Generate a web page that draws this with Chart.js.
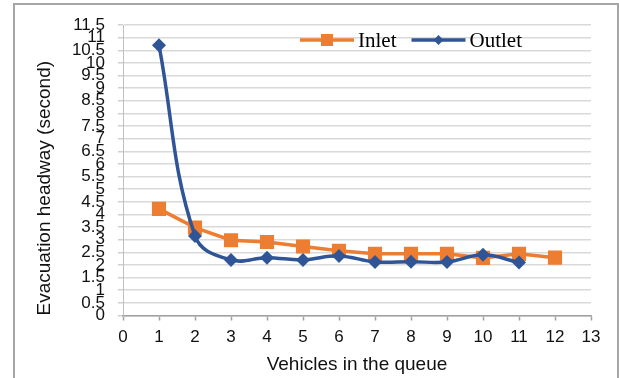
<!DOCTYPE html>
<html>
<head>
<meta charset="utf-8">
<script src="https://cdn.jsdelivr.net/npm/chart.js@4/dist/chart.umd.min.js"></script>
<style>
  html, body { margin: 0; padding: 0; background: #ffffff; }
  #frame { position: absolute; left: 13px; top: 3px; width: 606px; height: 400px; border: 2px solid #a6a6a6; box-sizing: border-box; }
  #wrap { position: absolute; left: 0; top: 0; width: 619px; height: 378px; }
</style>
</head>
<body>
<div id="frame"></div>
<div id="wrap"><canvas id="c" width="619" height="378"></canvas></div>
<script>
// ---- data ----
const vehicles = [1, 2, 3, 4, 5, 6, 7, 8, 9, 10, 11, 12];
const inletHeadway  = [4.22, 3.48, 2.98, 2.91, 2.73, 2.56, 2.44, 2.44, 2.44, 2.28, 2.44, 2.29];
const outletHeadway = [10.7, 3.15, 2.2, 2.29, 2.2, 2.36, 2.12, 2.13, 2.12, 2.4, 2.1];
const seriesNames = ["Inlet", "Outlet"];
const xTickLabels = ["0","1","2","3","4","5","6","7","8","9","10","11","12","13"];
const yTickLabels = ["0","0.5","1","1.5","2","2.5","3","3.5","4","4.5","5","5.5","6","6.5","7","7.5","8","8.5","9","9.5","10","10.5","11","11.5"];
const xTitle = "Vehicles in the queue";
const yTitle = "Evacuation headway (second)";

const ORANGE = "#ED7D31";
const BLUE = "#2F5597";

function toPoints(xs, ys) { return ys.map((v, i) => ({ x: xs[i], y: v })); }

// custom legend drawn inside the plot (line + marker + serif text)
const insideLegend = {
  id: "insideLegend",
  afterDraw(chart, args, opts) {
    const ctx = chart.ctx;
    ctx.save();
    ctx.font = opts.font;
    ctx.textBaseline = "alphabetic";
    ctx.fillStyle = "#000";
    let x = opts.x;
    const y = opts.y;
    chart.data.datasets.slice().sort((a, b) => a.legendIndex - b.legendIndex).forEach(ds => {
      ctx.strokeStyle = ds.borderColor;
      ctx.lineWidth = 3.5;
      ctx.beginPath();
      ctx.moveTo(x, y);
      ctx.lineTo(x + opts.lineLen, y);
      ctx.stroke();
      ctx.fillStyle = ds.borderColor;
      const cx = x + opts.lineLen / 2;
      ctx.beginPath();
      if (ds.pointStyle === "rect") {
        ctx.rect(cx - 6, y - 6, 12, 12);
      } else {
        ctx.moveTo(cx, y - 5); ctx.lineTo(cx + 5, y); ctx.lineTo(cx, y + 5); ctx.lineTo(cx - 5, y); ctx.closePath();
      }
      ctx.fill();
      ctx.fillStyle = "#000";
      const tx = x + opts.lineLen + opts.gap;
      ctx.fillText(ds.label, tx, y + opts.textDy);
      x = tx + ctx.measureText(ds.label).width + opts.itemGap;
    });
    ctx.restore();
  }
};

new Chart(document.getElementById("c"), {
  type: "line",
  data: {
    datasets: [
      {
        label: seriesNames[0],
        legendIndex: 0,
        order: 2,
        data: toPoints(vehicles, inletHeadway),
        borderColor: ORANGE,
        backgroundColor: ORANGE,
        borderWidth: 3.5,
        pointStyle: "rect",
        pointRadius: 10,
        pointBorderWidth: 0,
        pointBackgroundColor: ORANGE,
        tension: 0
      },
      {
        label: seriesNames[1],
        legendIndex: 1,
        order: 1,
        data: toPoints(vehicles, outletHeadway),
        borderColor: BLUE,
        backgroundColor: BLUE,
        borderWidth: 3.5,
        pointStyle: "rectRot",
        pointRadius: 7,
        pointBorderWidth: 0,
        pointBackgroundColor: BLUE,
        tension: 0.4
      }
    ]
  },
  options: {
    responsive: false,
    animation: false,
    events: [],
    layout: { padding: { left: 0, top: 25, right: 28, bottom: 0 } },
    plugins: {
      legend: { display: false },
      tooltip: { enabled: false },
      insideLegend: { x: 300, y: 40, lineLen: 54, gap: 4, itemGap: 15, textDy: 7, font: "21px 'Liberation Serif', 'Times New Roman', serif" }
    },
    scales: {
      x: {
        type: "linear",
        min: 0,
        max: 13,
        afterFit(scale) { scale.height = 62.5; },
        afterBuildTicks(scale) { scale.ticks = xTickLabels.map(t => ({ value: Number(t) })); },
        ticks: {
          autoSkip: false,
          maxRotation: 0,
          padding: 7,
          color: "#111",
          font: { family: "'Liberation Sans', Arial, sans-serif", size: 17 },
          callback: (v, i) => xTickLabels[i]
        },
        grid: { drawOnChartArea: false, drawTicks: true, tickLength: 5, tickColor: "#a0a0a0", tickWidth: 1.5 },
        border: { display: true, color: "#a0a0a0", width: 1.5 },
        title: {
          display: true,
          text: xTitle,
          color: "#111",
          font: { family: "'Liberation Sans', Arial, sans-serif", size: 19 },
          padding: { top: 0, bottom: 2 }
        }
      },
      y: {
        type: "linear",
        min: 0,
        max: 11.5,
        afterFit(scale) { scale.width = 123; },
        afterBuildTicks(scale) { scale.ticks = yTickLabels.map(t => ({ value: Number(t) })); },
        ticks: {
          autoSkip: false,
          padding: 13,
          color: "#111",
          font: { family: "'Liberation Sans', Arial, sans-serif", size: 17 },
          callback: (v, i) => yTickLabels[i]
        },
        grid: { color: "#d9d9d9", lineWidth: 1.5, drawTicks: true, tickLength: 5, tickColor: "#d0d0d0" },
        border: { display: true, color: "#bfbfbf", width: 1 },
        title: {
          display: true,
          text: yTitle,
          align: "start",
          color: "#111",
          font: { family: "'Liberation Sans', Arial, sans-serif", size: 19 },
          padding: { top: 33, bottom: 0 }
        }
      }
    }
  },
  plugins: [insideLegend]
});
</script>
</body>
</html>
